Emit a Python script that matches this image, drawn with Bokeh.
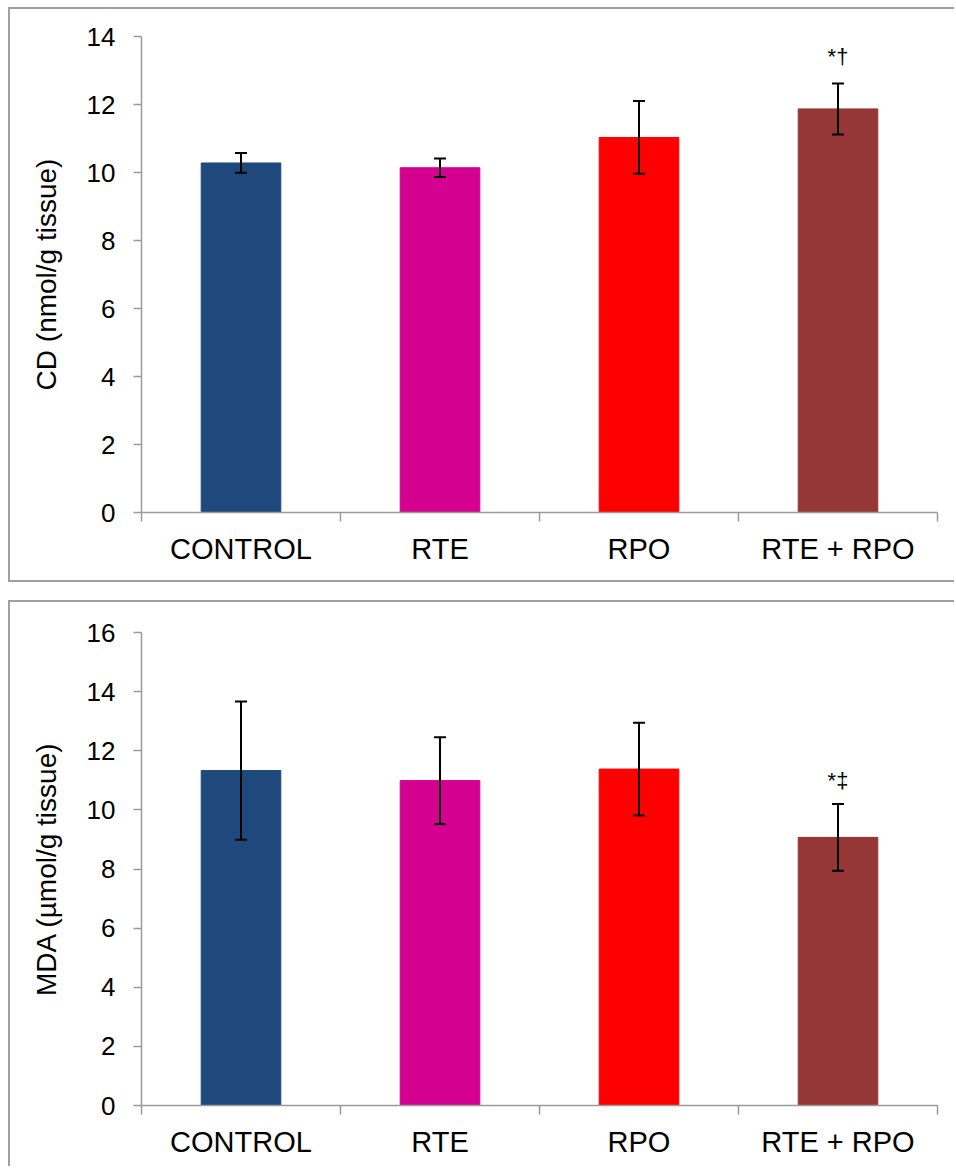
from bokeh.plotting import figure
from bokeh.models import ColumnDataSource, Range1d, FixedTicker, Whisker, TeeHead
from bokeh.layouts import column
from bokeh.core.properties import value
from bokeh.embed import file_html
from bokeh.resources import INLINE

# ---- data ----
categories = ["CONTROL", "RTE", "RPO", "RTE + RPO"]
colors = ["#1F497D", "#D4008F", "#FF0000", "#953735"]

cd_values = [10.28, 10.14, 11.03, 11.87]
cd_errors = [0.29, 0.27, 1.07, 0.75]
cd_marks = ["", "", "", "*†"]
cd_ticks = [0, 2, 4, 6, 8, 10, 12, 14]

mda_values = [11.33, 10.99, 11.38, 9.07]
mda_errors = [2.34, 1.47, 1.57, 1.13]
mda_marks = ["", "", "", "*‡"]
mda_ticks = [0, 2, 4, 6, 8, 10, 12, 14, 16]

FONT = "Liberation Sans"
AXIS_GREY = "#9a9a9a"


def make_panel(vals, errs, marks, yticks, ylabel, height, bottom_border,
               min_top, min_bottom, margin, mark_offset):
    xs = [i + 0.5 for i in range(len(categories))]
    src = ColumnDataSource(dict(
        x=xs, top=vals, color=colors,
        upper=[v + e for v, e in zip(vals, errs)],
        lower=[v - e for v, e in zip(vals, errs)],
        mark=marks,
    ))
    styles = {"border-left": "2px solid #a0a0a0", "border-top": "2px solid #a0a0a0"}
    if bottom_border:
        styles["border-bottom"] = "2px solid #a0a0a0"
    p = figure(width=946, height=height, output_backend="svg", toolbar_location=None,
               x_range=Range1d(0, len(categories)), y_range=Range1d(yticks[0], yticks[-1]),
               min_border_left=131, min_border_right=19,
               min_border_top=min_top, min_border_bottom=min_bottom,
               styles=styles, margin=margin)
    p.outline_line_color = None
    p.xgrid.grid_line_color = None
    p.ygrid.grid_line_color = None

    p.vbar(x="x", top="top", width=0.4, bottom=0, color="color", line_color="color",
           source=src)
    w = Whisker(base="x", upper="upper", lower="lower", source=src,
                line_color="black", line_width=2, level="overlay",
                upper_head=TeeHead(size=12, line_width=2, line_color="black"),
                lower_head=TeeHead(size=12, line_width=2, line_color="black"))
    p.add_layout(w)
    p.text(x="x", y="upper", text="mark", source=src, text_align="center",
           text_baseline="bottom", y_offset=mark_offset, text_font=value(FONT),
           text_font_size="22px", text_color="black")

    # y axis
    ya = p.yaxis[0]
    ya.ticker = FixedTicker(ticks=yticks)
    ya.axis_label = ylabel
    ya.axis_label_text_font = FONT
    ya.axis_label_text_font_style = "normal"
    ya.axis_label_text_font_size = "28px"
    ya.axis_label_text_color = "black"
    ya.axis_label_standoff = 22
    ya.major_label_text_font = FONT
    ya.major_label_text_font_size = "26px"
    ya.major_label_text_color = "black"
    ya.major_label_standoff = 18
    ya.axis_line_color = AXIS_GREY
    ya.axis_line_width = 1.5
    ya.major_tick_line_color = AXIS_GREY
    ya.major_tick_line_width = 1.5
    ya.major_tick_out = 8
    ya.major_tick_in = 0
    ya.minor_tick_line_color = None

    # x axis: labels at category centres, ticks at category boundaries
    xa = p.xaxis[0]
    xa.ticker = FixedTicker(ticks=xs, minor_ticks=list(range(len(categories) + 1)))
    xa.major_label_overrides = {x: c for x, c in zip(xs, categories)}
    xa.major_label_text_font = FONT
    xa.major_label_text_font_size = "29px"
    xa.major_label_text_color = "black"
    xa.major_label_standoff = 11
    xa.major_tick_out = 0
    xa.major_tick_in = 0
    xa.minor_tick_out = 9
    xa.minor_tick_in = 0
    xa.minor_tick_line_color = AXIS_GREY
    xa.minor_tick_line_width = 1.5
    xa.axis_line_color = AXIS_GREY
    xa.axis_line_width = 1.5
    return p


p1 = make_panel(cd_values, cd_errors, cd_marks, cd_ticks, "CD (nmol/g tissue)",
                575, True, 27, 72, (7, 0, 0, 8), -14)
p2 = make_panel(mda_values, mda_errors, mda_marks, mda_ticks, "MDA (µmol/g tissue)",
                566, False, 30, 63, (0, 0, 0, 8), -11)

layout = column(p1, p2, spacing=18)
open("out.html", "w").write(file_html(layout, INLINE))
